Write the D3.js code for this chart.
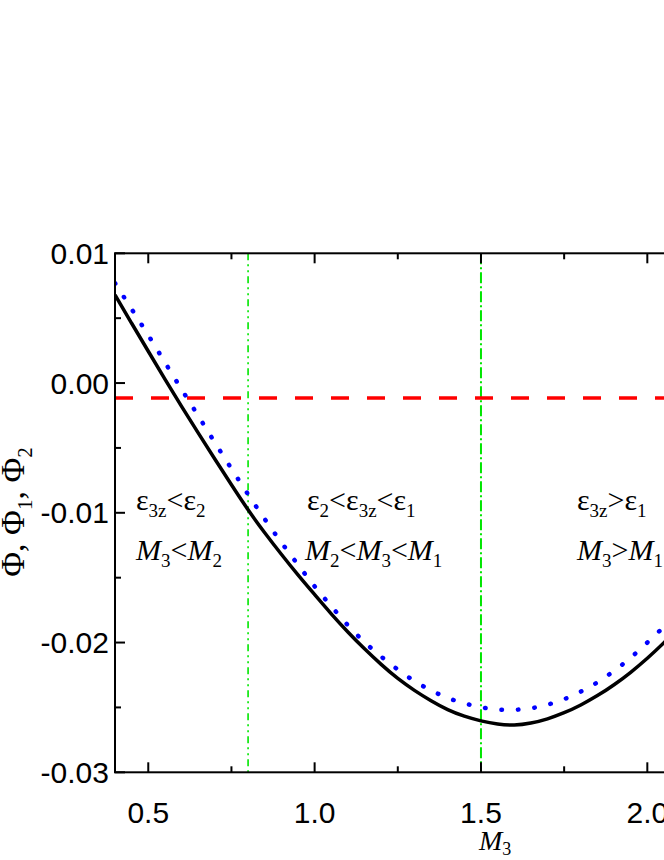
<!DOCTYPE html>
<html><head><meta charset="utf-8">
<script src="https://cdn.jsdelivr.net/npm/d3@7"></script>
<style>body{margin:0;background:#fff}svg{display:block}</style>
</head><body>
<svg id="c" width="664" height="860"></svg>
<script>
const m3 = [0.40,0.45,0.50,0.55,0.60,0.65,0.70,0.75,0.80,0.85,0.90,0.95,1.00,1.05,1.10,1.15,1.20,1.25,1.30,1.35,1.40,1.45,1.50,1.55,1.60,1.65,1.70,1.75,1.80,1.85,1.90,1.95,2.00,2.05,2.10,2.15,2.20];
const phi = [0.0068,0.0046,0.00245,0.0003,-0.0018,-0.00385,-0.00585,-0.00785,-0.0098,-0.01155,-0.0132,-0.0148,-0.0163,-0.0178,-0.0192,-0.0205,-0.0217,-0.0228,-0.0237,-0.0245,-0.0252,-0.0257,-0.02605,-0.0263,-0.0264,-0.02623,-0.0259,-0.02543,-0.02483,-0.02411,-0.02327,-0.02231,-0.02123,-0.02003,-0.01873,-0.01733,-0.01583];
const phi1 = [0.0077,0.0057,0.0037,0.0016,-0.0005,-0.0025,-0.0046,-0.0066,-0.0086,-0.0105,-0.0123,-0.0140,-0.0157,-0.0172,-0.0187,-0.0200,-0.0211,-0.0221,-0.0230,-0.0237,-0.0243,-0.0247,-0.0250,-0.0252,-0.0252,-0.0251,-0.0248,-0.0244,-0.0238,-0.0231,-0.0222,-0.0212,-0.0200,-0.0188,-0.0175,-0.0161,-0.0146];
const phi2Level = -0.00115;
const boundaries = [0.8, 1.5];
const xTicks = [0.5, 1.0, 1.5, 2.0];
const xMinor = [0.75, 1.25, 1.75];
const yTicks = [0.01, 0.00, -0.01, -0.02, -0.03];
const yMinor = [0.005, -0.005, -0.015, -0.025];

const svg = d3.select("#c");
const pL = 115, pT = 253.3, pB = 772.3, pxPerUnit = 332.7;
const x = d3.scaleLinear().domain([0.4, 2.2]).range([pL, pL + 1.8*pxPerUnit]);
const y = d3.scaleLinear().domain([-0.03, 0.01]).range([pB, pT]);
const pR = x(2.2);

svg.append("clipPath").attr("id","pc").append("rect")
  .attr("x", pL).attr("y", pT).attr("width", pR-pL).attr("height", pB-pT);

const g = svg.append("g").attr("clip-path","url(#pc)");

g.append("line").attr("x1", x(boundaries[0])).attr("x2", x(boundaries[0]))
  .attr("y1", pT).attr("y2", pB).attr("stroke","#00e600").attr("stroke-width",1.6)
  .attr("stroke-dasharray","7,4,2,4,2,4");
g.append("line").attr("x1", x(boundaries[1])).attr("x2", x(boundaries[1]))
  .attr("y1", pT).attr("y2", pB).attr("stroke","#00e600").attr("stroke-width",2)
  .attr("stroke-dasharray","11,3,2,3");

g.append("line").attr("x1", pL).attr("x2", pR)
  .attr("y1", y(phi2Level)).attr("y2", y(phi2Level))
  .attr("stroke","#ff0000").attr("stroke-width",3.5).attr("stroke-dasharray","18,18");

const line = d3.line().curve(d3.curveBasis);
g.append("path").attr("d", line(m3.map((v,i)=>[x(v), y(phi1[i])])))
  .attr("fill","none").attr("stroke","#0000ff").attr("stroke-width",4.5)
  .attr("stroke-linecap","round").attr("stroke-dasharray","0.5,16");
g.append("path").attr("d", line(m3.map((v,i)=>[x(v), y(phi[i])])))
  .attr("fill","none").attr("stroke","#000").attr("stroke-width",3.5);

svg.append("rect").attr("x", pL).attr("y", pT).attr("width", pR-pL).attr("height", pB-pT)
  .attr("fill","none").attr("stroke","#000").attr("stroke-width",2);

const ax = svg.append("g").attr("stroke","#000").attr("stroke-width",2);
xTicks.forEach(t=>{
  ax.append("line").attr("x1",x(t)).attr("x2",x(t)).attr("y1",pB).attr("y2",pB-10);
  ax.append("line").attr("x1",x(t)).attr("x2",x(t)).attr("y1",pT).attr("y2",pT+10);
});
xMinor.forEach(t=>{
  ax.append("line").attr("x1",x(t)).attr("x2",x(t)).attr("y1",pB).attr("y2",pB-6);
  ax.append("line").attr("x1",x(t)).attr("x2",x(t)).attr("y1",pT).attr("y2",pT+6);
});
yTicks.forEach(t=>{
  ax.append("line").attr("x1",pL).attr("x2",pL+10).attr("y1",y(t)).attr("y2",y(t));
});
yMinor.forEach(t=>{
  ax.append("line").attr("x1",pL).attr("x2",pL+6).attr("y1",y(t)).attr("y2",y(t));
});

const fmtX = d3.format(".1f");
const fmtY = d => (d < 0 ? "-" : "") + Math.abs(d).toFixed(2);
svg.append("g").selectAll("text").data(xTicks).join("text")
  .attr("x", d=>x(d)).attr("y", pB+51).attr("text-anchor","middle")
  .attr("font-family","Liberation Sans, Arial, sans-serif").attr("font-size",30)
  .text(d=>fmtX(d));
svg.append("g").selectAll("text").data(yTicks).join("text")
  .attr("x", pL-6).attr("y", d=>y(d)+10.5).attr("text-anchor","end")
  .attr("font-family","Liberation Sans, Arial, sans-serif").attr("font-size",30)
  .text(d=>fmtY(d));

const serif = "Liberation Serif, Times New Roman, serif";
const xl = svg.append("text").attr("x", 479).attr("y", 850).attr("font-family",serif).attr("font-size",28);
xl.append("tspan").attr("font-style","italic").text("M");
xl.append("tspan").attr("font-size",18).attr("dy",5).text("3");

const yl = svg.append("text").attr("transform","translate(24,512) rotate(-90)")
  .attr("text-anchor","middle").attr("font-family",serif).attr("font-size",34);
yl.append("tspan").text("Φ, Φ");
yl.append("tspan").attr("font-size",21).attr("dy",8).text("1");
yl.append("tspan").attr("dy",-8).text(", Φ");
yl.append("tspan").attr("font-size",21).attr("dy",8).text("2");

function label(xp, yp, parts){
  const t = svg.append("text").attr("x",xp).attr("y",yp).attr("font-family",serif).attr("font-size",30);
  let sub=false;
  parts.forEach(p=>{
    const s = t.append("tspan").text(p.t);
    if(p.i) s.attr("font-style","italic");
    if(p.s && !sub){ s.attr("font-size",19).attr("dy",7); sub=true; }
    else if(p.s){ s.attr("font-size",19); }
    else if(!p.s && sub){ s.attr("dy",-7); sub=false; }
  });
}
label(136, 510, [{t:"ε"},{t:"3z",s:1},{t:"<ε"},{t:"2",s:1}]);
label(136, 560, [{t:"M",i:1},{t:"3",s:1},{t:"<"},{t:"M",i:1},{t:"2",s:1}]);
label(307, 510, [{t:"ε"},{t:"2",s:1},{t:"<ε"},{t:"3z",s:1},{t:"<ε"},{t:"1",s:1}]);
label(305, 560, [{t:"M",i:1},{t:"2",s:1},{t:"<"},{t:"M",i:1},{t:"3",s:1},{t:"<"},{t:"M",i:1},{t:"1",s:1}]);
label(577, 510, [{t:"ε"},{t:"3z",s:1},{t:">ε"},{t:"1",s:1}]);
label(577, 560, [{t:"M",i:1},{t:"3",s:1},{t:">"},{t:"M",i:1},{t:"1",s:1}]);
</script>
</body></html>
